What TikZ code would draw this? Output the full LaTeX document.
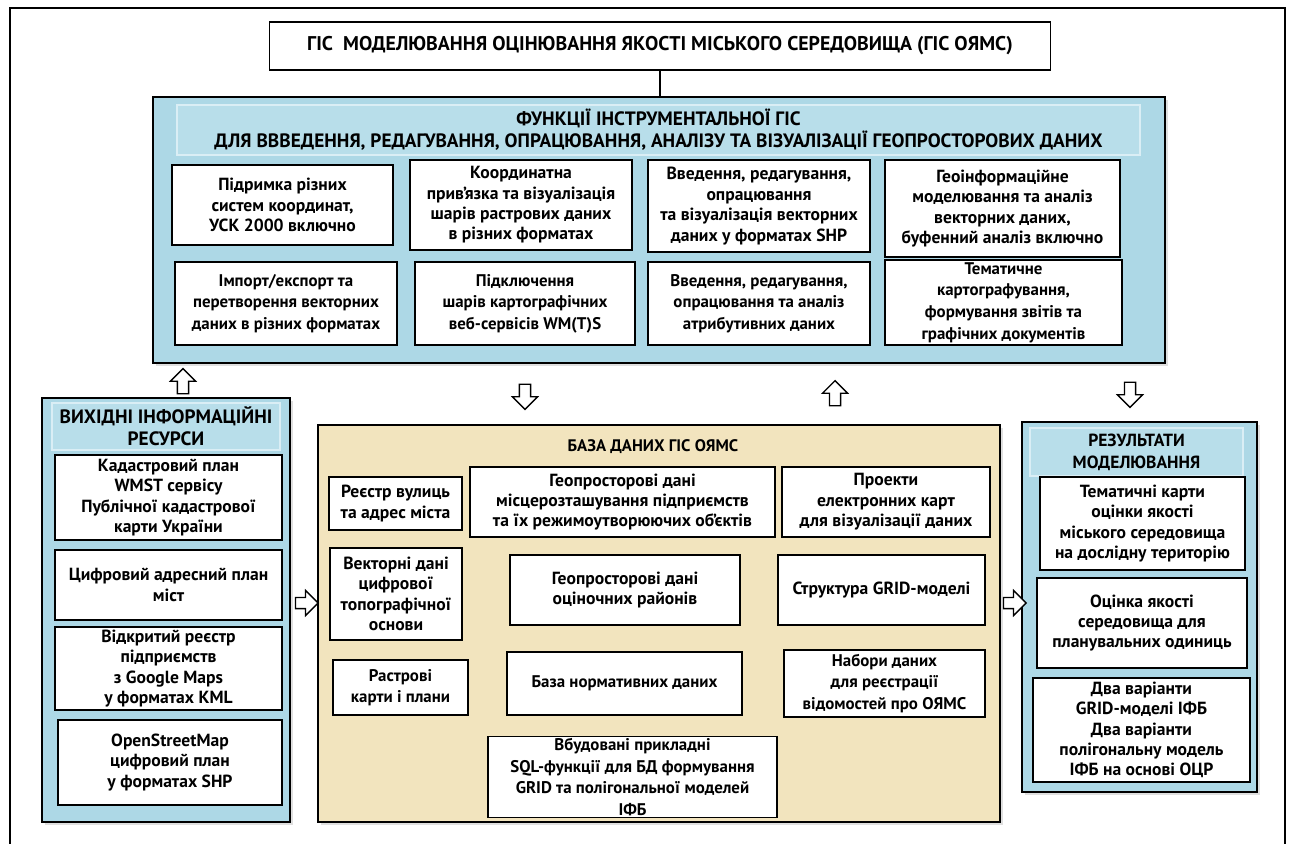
\documentclass[tikz,border=0pt]{standalone}
\usepackage{fontspec}
\setmainfont{PT Sans}
\usepackage{xcolor}
\usetikzlibrary{shapes.arrows,shadows}

\definecolor{gisblue}{RGB}{173,216,230}
\definecolor{headblue}{RGB}{184,222,234}
\definecolor{headline}{RGB}{218,238,245}
\definecolor{dbtan}{RGB}{242,228,190}

\begin{document}
\begin{tikzpicture}[x=0.02cm,y=-0.02cm,
  box/.style={draw,line width=1pt,fill=white,align=center,inner sep=1pt,font=\bfseries\fontsize{10}{11.6}\selectfont},
  nbox/.style={box,font=\bfseries\fontsize{9.6}{12.3}\selectfont},
  panel/.style={draw,line width=1pt,fill=gisblue,drop shadow={opacity=0.25,shadow xshift=1.5pt,shadow yshift=-1.5pt}},
  head/.style={draw=headline,line width=1.2pt,fill=headblue,align=center,inner sep=1pt,font=\bfseries\fontsize{11}{12.5}\selectfont},
  blockarr/.style={single arrow,draw,line width=0.8pt,fill=white,minimum height=0.5cm,minimum width=0.5cm,inner sep=2.4pt,single arrow head extend=3.5pt},
  uparr/.style={blockarr,shape border rotate=90},
  downarr/.style={blockarr,shape border rotate=270},
  rightarr/.style={blockarr,minimum height=0.45cm}]
  \useasboundingbox (0,0) rectangle (1295,843);
  \draw[line width=1.2pt] (10,860) -- (10,8) -- (1285,8) -- (1285,860);

  \node[nbox,minimum width=15.62cm,minimum height=0.96cm,font=\bfseries\fontsize{11.3}{13}\selectfont] (title) at (660,46)
    {ГІС\ \ МОДЕЛЮВАННЯ ОЦІНЮВАННЯ ЯКОСТІ МІСЬКОГО СЕРЕДОВИЩА (ГІС ОЯМС)};

  \node[panel,minimum width=20.24cm,minimum height=5.32cm] (gis) at (659,230) {};
  \node[head,minimum width=19.26cm,minimum height=1cm] (gishead) at (658.5,130)
    {ФУНКЦІЇ ІНСТРУМЕНТАЛЬНОЇ ГІС\\ДЛЯ ВВВЕДЕННЯ, РЕДАГУВАННЯ, ОПРАЦЮВАННЯ, АНАЛІЗУ ТА ВІЗУАЛІЗАЦІЇ ГЕОПРОСТОРОВИХ ДАНИХ};
  \node[box,minimum width=4.42cm,minimum height=1.6cm] (f1) at (282.5,205) {Підримка різних\\систем координат,\\УСК 2000 включно};
  \node[box,minimum width=4.44cm,minimum height=1.8cm] (f2) at (521,205) {Координатна\\прив'язка та візуалізація\\шарів растрових даних\\в різних форматах};
  \node[box,minimum width=4.44cm,minimum height=1.84cm] (f3) at (759,206) {Введення, редагування,\\опрацювання\\та візуалізація векторних\\даних у форматах SHP};
  \node[box,minimum width=4.7cm,minimum height=1.94cm] (f4) at (1002.5,208.5) {Геоінформаційне\\моделювання та аналіз\\векторних даних,\\буфенний аналіз включно};
  \node[nbox,minimum width=4.44cm,minimum height=1.66cm] (f5) at (286,303.5) {Імпорт/експорт та\\перетворення векторних\\даних в різних форматах};
  \node[nbox,minimum width=4.4cm,minimum height=1.66cm] (f6) at (525,303.5) {Підключення\\шарів картографічних\\веб-сервісів WM(T)S};
  \node[nbox,minimum width=4.44cm,minimum height=1.66cm] (f7) at (759,303.5) {Введення, редагування,\\опрацювання та аналіз\\атрибутивних даних};
  \node[nbox,minimum width=4.74cm,minimum height=1.7cm] (f8) at (1003.5,302.5) {Тематичне\\картографування,\\формування звітів та\\графічних документів};

  \node[panel,minimum width=4.96cm,minimum height=8.48cm] (src) at (166,610) {};
  \node[head,minimum width=4.56cm,minimum height=0.94cm] (srchead) at (166,426.5) {ВИХІДНІ ІНФОРМАЦІЙНІ\\РЕСУРСИ};
  \node[box,minimum width=4.54cm,minimum height=1.7cm] (s1) at (168.5,497.5) {Кадастровий план\\WMST сервісу\\Публічної кадастрової\\карти України};
  \node[box,minimum width=4.54cm,minimum height=1.4cm] (s2) at (168.5,585) {Цифровий адресний план\\міст};
  \node[box,minimum width=4.54cm,minimum height=1.66cm] (s3) at (168.5,668.5) {Відкритий реєстр\\підприємств\\з Google Maps\\у форматах KML};
  \node[box,minimum width=4.48cm,minimum height=1.7cm] (s4) at (170,762.5) {OpenStreetMap\\цифровий план\\у форматах SHP};

  \node[panel,fill=dbtan,minimum width=13.64cm,minimum height=7.94cm] (db) at (659,623.5) {};
  \node[font=\bfseries\fontsize{9.5}{12}\selectfont] (dbtitle) at (653,447) {БАЗА ДАНИХ ГІС ОЯМС};
  \node[box,minimum width=2.66cm,minimum height=1.06cm] (d1) at (395.5,503.5) {Реєстр вулиць\\та адрес міста};
  \node[box,minimum width=6.1cm,minimum height=1.4cm] (d2) at (622.5,502) {Геопросторові дані\\місцерозташування підприємств\\та їх режимоутворюючих об'єктів};
  \node[box,minimum width=4.16cm,minimum height=1.4cm] (d3) at (886,502) {Проекти\\електронних карт\\для візуалізації даних};
  \node[box,minimum width=2.64cm,minimum height=1.84cm] (d4) at (396,594) {Векторні дані\\цифрової\\топографічної\\основи};
  \node[box,minimum width=4.6cm,minimum height=1.4cm] (d5) at (625,590) {Геопросторові дані\\оціночних районів};
  \node[box,minimum width=4.14cm,minimum height=1.4cm] (d6) at (881.5,590) {Структура GRID-моделі};
  \node[nbox,minimum width=2.7cm,minimum height=1.1cm] (d7) at (400.5,687.5) {Растрові\\карти і плани};
  \node[nbox,minimum width=4.7cm,minimum height=1.26cm] (d8) at (624.5,683.5) {База нормативних даних};
  \node[nbox,minimum width=4.02cm,minimum height=1.34cm] (d9) at (884.5,683.5) {Набори даних\\для реєстрації\\відомостей про ОЯМС};
  \node[nbox,minimum width=5.78cm,minimum height=1.6cm] (d10) at (632.5,777) {Вбудовані прикладні\\SQL-функції для БД формування\\GRID та полігональної моделей\\ІФБ};

  \node[panel,minimum width=4.7cm,minimum height=7.4cm] (res) at (1139.5,607) {};
  \node[head,minimum width=4.26cm,minimum height=0.96cm,font=\bfseries\fontsize{10}{12.5}\selectfont] (reshead) at (1136.5,452) {РЕЗУЛЬТАТИ\\МОДЕЛЮВАННЯ};
  \node[box,minimum width=4.1cm,minimum height=1.86cm] (r1) at (1142.5,523.5) {Тематичні карти\\оцінки якості\\міського середовища\\на дослідну територію};
  \node[box,minimum width=4.2cm,minimum height=1.8cm] (r2) at (1142,623) {Оцінка якості\\середовища для\\планувальних одиниць};
  \node[box,minimum width=4.34cm,minimum height=2.08cm] (r3) at (1141.5,730) {Два варіанти\\GRID-моделі ІФБ\\Два варіанти\\полігональну модель\\ІФБ на основі ОЦР};

  \node[uparr] (a1) at (183,384) {};
  \node[downarr] (a2) at (525,394) {};
  \node[uparr] (a3) at (835,396) {};
  \node[downarr] (a4) at (1130,392) {};
  \node[rightarr] (a5) at (304,603) {};
  \node[rightarr] (a6) at (1012,603) {};

  \draw[line width=1pt] (title.south) -- (title.south |- gis.north);
\end{tikzpicture}
\end{document}
